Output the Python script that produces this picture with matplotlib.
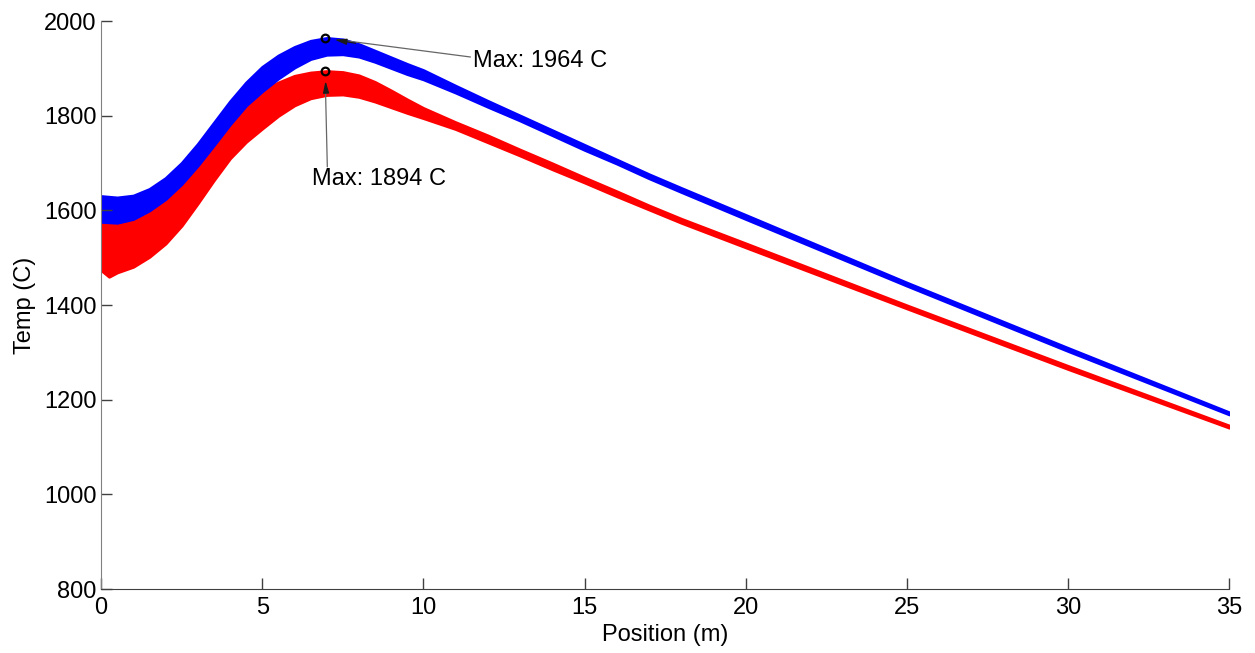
import numpy as np
import matplotlib
matplotlib.use('Agg')
import matplotlib.pyplot as plt

plt.rcParams['font.family'] = ['Liberation Sans', 'DejaVu Sans']

# upper / lower envelope of each temperature trace (position in m, temp in C)
blue_x = [0, 0.5, 1.0, 1.5, 2.0, 2.5, 3.0, 3.5, 4.0, 4.5, 5.0, 5.5, 6.0, 6.5, 7.0,
          7.5, 8.0, 8.5, 9.0, 9.5, 10.0, 11.0, 12, 13, 14, 15, 16, 17, 18, 20, 25, 30, 35]
blue_hi = [1630, 1627, 1631, 1645, 1668, 1700, 1740, 1785, 1830, 1870, 1903, 1927, 1945, 1958, 1964,
           1961, 1951, 1937, 1923, 1909, 1896, 1863, 1831, 1800, 1769, 1738, 1707, 1676, 1647,
           1590, 1447, 1309, 1173]
blue_lo = [1576, 1574, 1582, 1600, 1624, 1656, 1695, 1738, 1782, 1822, 1852, 1879, 1902, 1920, 1929,
           1930, 1925, 1914, 1901, 1888, 1877, 1849, 1819, 1790, 1759, 1728, 1699, 1668, 1639,
           1582, 1441, 1303, 1169]

red_x = [0, 0.25, 0.5, 1.0, 1.5, 2.0, 2.5, 3.0, 3.5, 4.0, 4.5, 5.0, 5.5, 6.0, 6.5, 7.0,
         7.5, 8.0, 8.5, 9.0, 9.5, 10.0, 11.0, 12, 13, 14, 15, 16, 17, 18, 20, 25, 30, 35]
red_hi = [1580, 1578, 1578, 1585, 1603, 1627, 1659, 1698, 1741, 1787, 1826, 1853, 1870, 1884, 1891, 1894,
          1892, 1885, 1871, 1853, 1834, 1816, 1786, 1758, 1728, 1699, 1669, 1640, 1610, 1582,
          1530, 1399, 1271, 1145]
red_lo = [1474, 1460, 1469, 1481, 1502, 1530, 1568, 1615, 1664, 1710, 1745, 1773, 1800, 1822, 1837, 1844,
          1845, 1840, 1830, 1818, 1806, 1795, 1772, 1744, 1716, 1687, 1659, 1630, 1602, 1574,
          1522, 1393, 1265, 1141]

# data tips
max_x = [6.95, 6.95]
max_t = [1964, 1894]

fig = plt.figure(figsize=(12.55, 6.53), dpi=100)
ax = fig.add_axes([0.0805, 0.098, 0.899, 0.8698])

ax.fill_between(red_x, red_lo, red_hi, color='#ff0000', edgecolor='#ff0000', lw=2.2)
ax.fill_between(blue_x, blue_lo, blue_hi, color='#0000ff', edgecolor='#0000ff', lw=2.2)

ax.plot(max_x, max_t, 'o', mfc='none', mec='k', mew=1.6, ms=5.5, zorder=5)

# grey leader line, dark arrow head
line = dict(arrowstyle='-', color='0.4', lw=0.9, shrinkA=0, shrinkB=9)
head = dict(arrowstyle='-|>,head_length=0.7,head_width=0.18', color='0.1', lw=0.9,
            shrinkA=0, shrinkB=7)
tips = [((11.46, 1924), (7.9, 1953)), ((7.02, 1692), (6.98, 1850))]
for (start, mid), mx, mt in zip(tips, max_x, max_t):
    ax.annotate('', xy=(mx, mt), xytext=start, arrowprops=line)
    ax.annotate('', xy=(mx, mt), xytext=mid, arrowprops=head)
ax.text(11.55, 1915, 'Max: %d C' % max_t[0], fontsize=17, va='center', ha='left')
ax.text(6.55, 1666, 'Max: %d C' % max_t[1], fontsize=17, va='center', ha='left')

ax.set_xlim(0, 35)
ax.set_ylim(800, 2000)
ax.set_xticks(np.arange(0, 36, 5))
ax.set_yticks(np.arange(800, 2001, 200))
ax.tick_params(direction='in', length=8, width=1, labelsize=17, pad=3, colors='0.25',
               labelcolor='k')
ax.tick_params(axis='x', pad=6)
ax.spines['top'].set_visible(False)
ax.spines['right'].set_visible(False)
ax.spines['left'].set_color('0.5')
ax.spines['bottom'].set_color('0.25')
ax.set_xlabel('Position (m)', fontsize=17, labelpad=3)
ax.set_ylabel('Temp (C)', fontsize=17, labelpad=6)

fig.savefig('out.png', dpi=100)
